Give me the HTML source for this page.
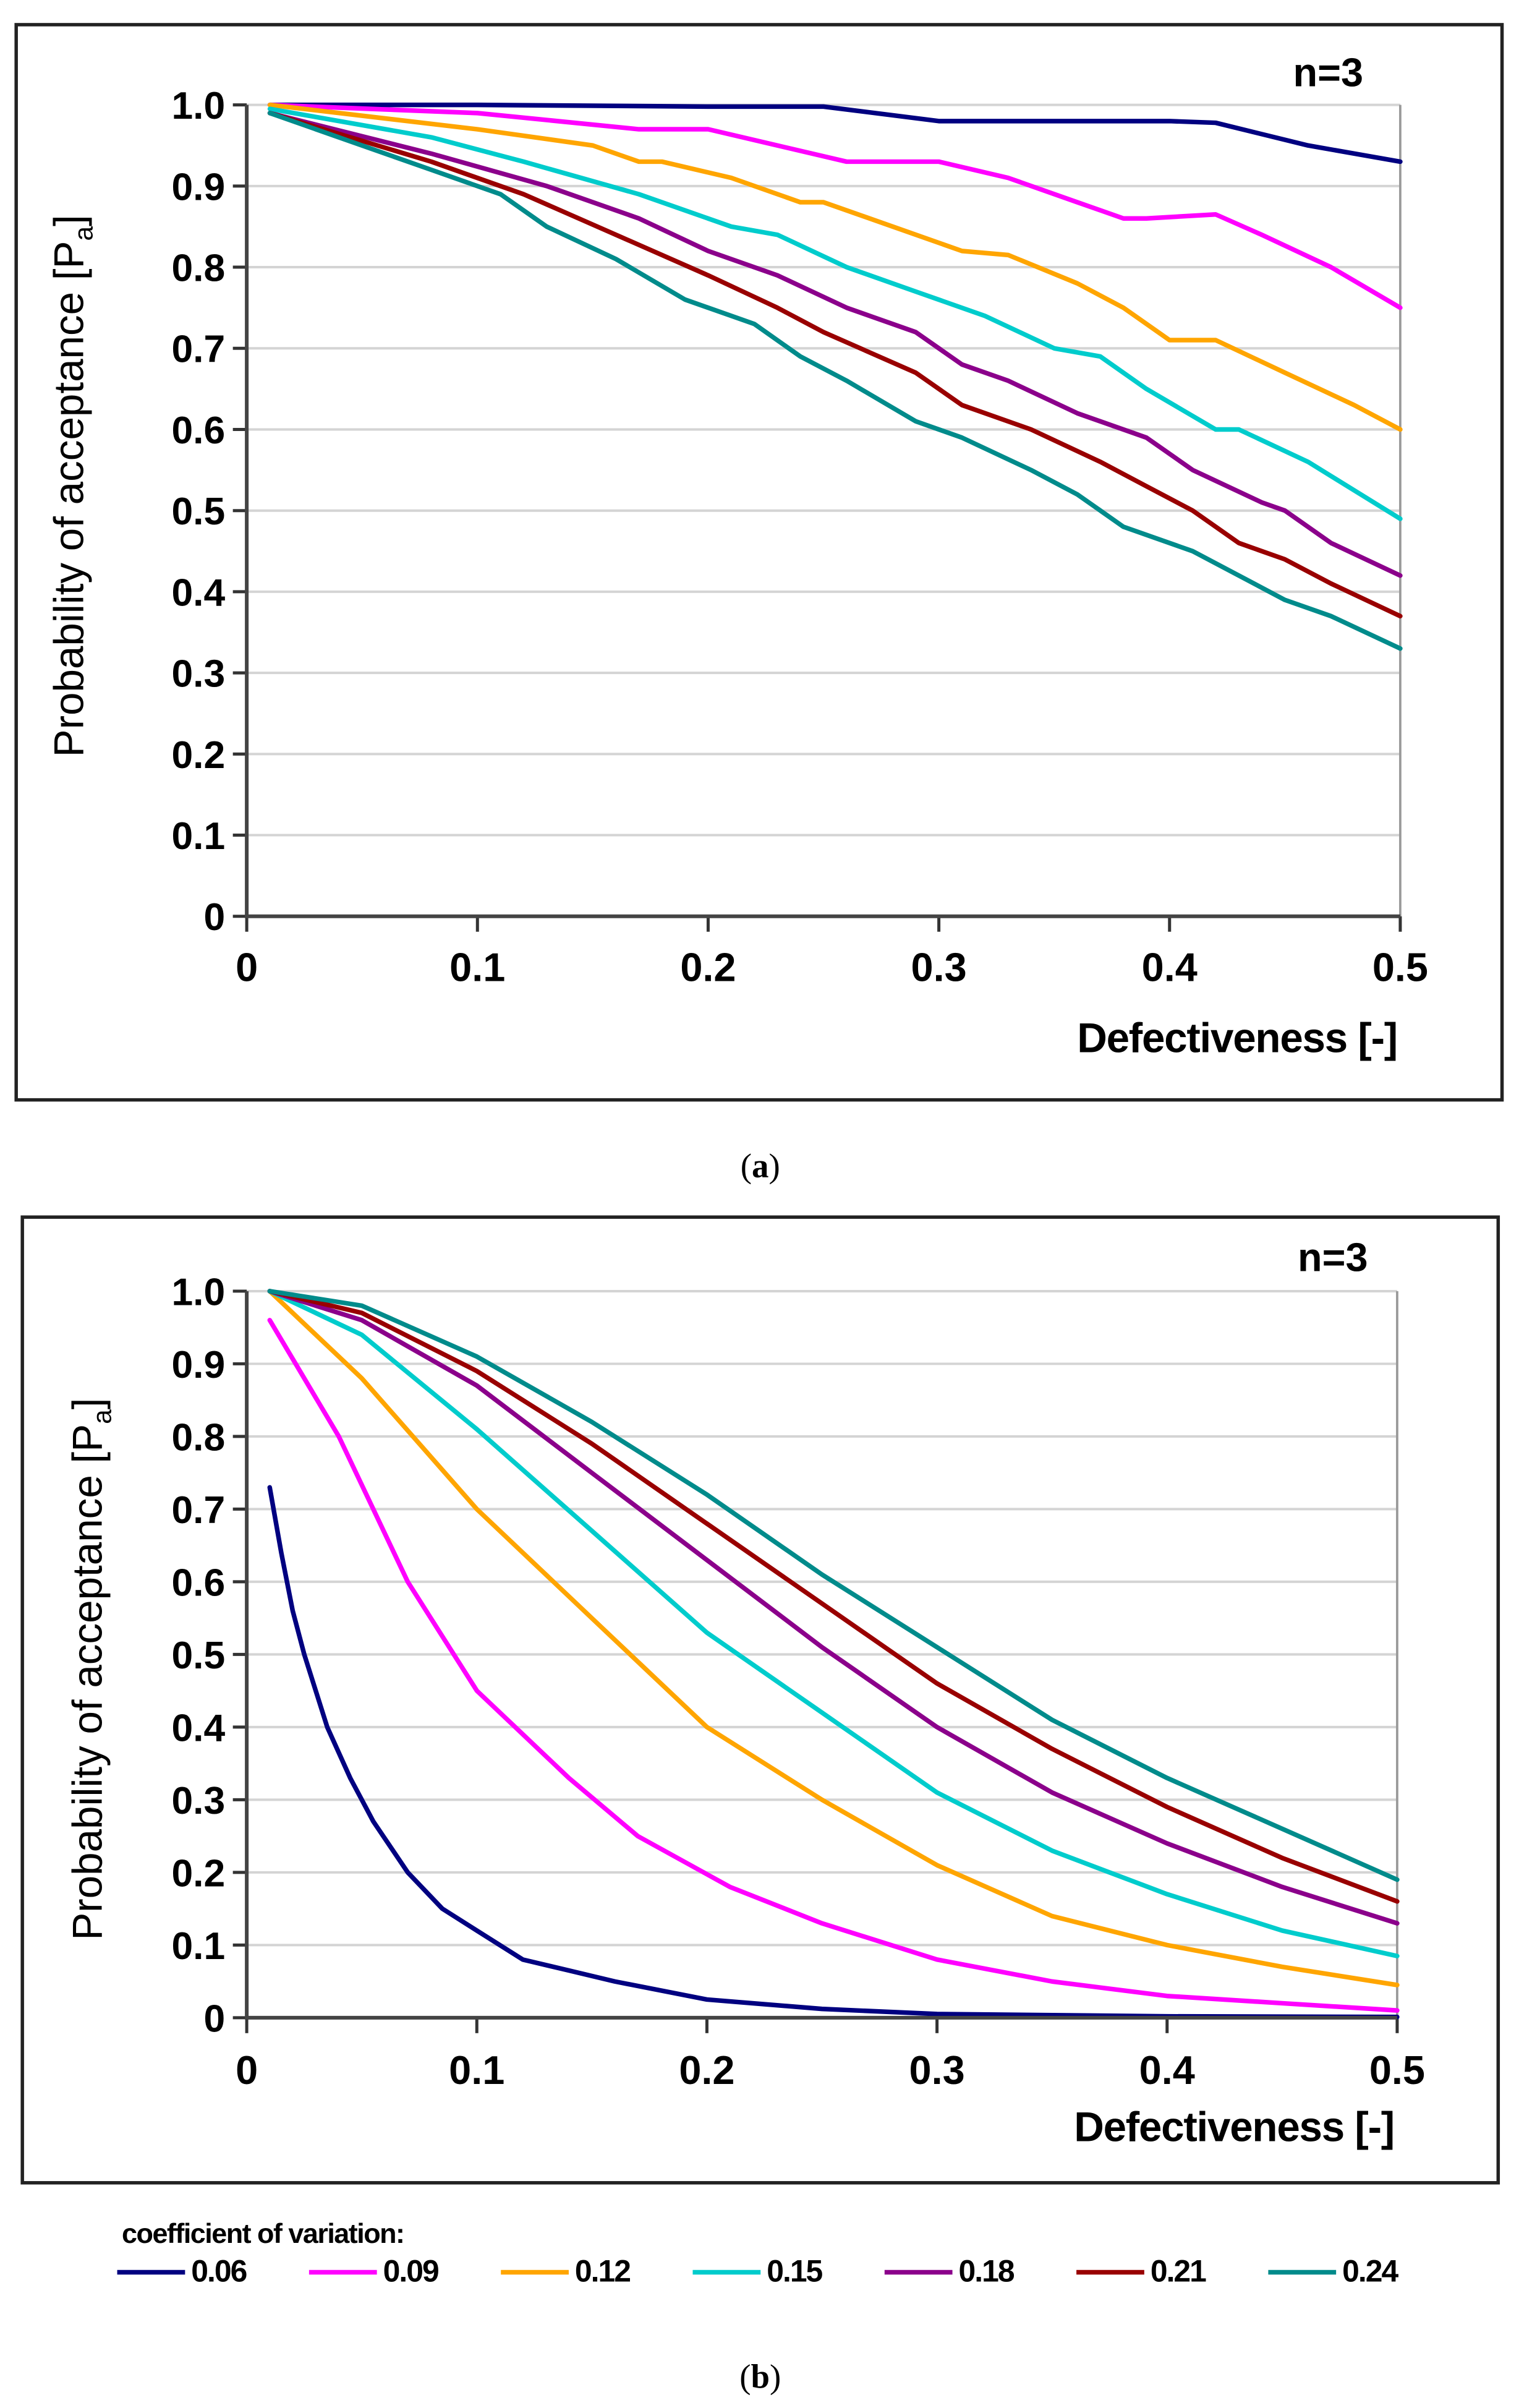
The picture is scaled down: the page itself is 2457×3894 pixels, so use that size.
<!DOCTYPE html>
<html><head><meta charset="utf-8"><style>
html,body{margin:0;padding:0;background:#fff}
svg{display:block}
text{font-family:"Liberation Sans",sans-serif}
</style></head><body>
<svg id="root" width="2457" height="3894" viewBox="0 0 985 1561" preserveAspectRatio="none" xmlns="http://www.w3.org/2000/svg">
<rect x="10.5" y="16" width="963.5" height="697" fill="#fff" stroke="#222" stroke-width="2.2"/>
<rect x="14.5" y="789" width="957" height="626" fill="#fff" stroke="#222" stroke-width="2.2"/>
<g id="pa"></g>
<g id="pb"></g>
<text x="493" y="763" text-anchor="middle" font-size="22" style="font-family:'Liberation Serif',serif">(<tspan font-weight="bold">a</tspan>)</text>
<text x="493" y="1548" text-anchor="middle" font-size="22" style="font-family:'Liberation Serif',serif">(<tspan font-weight="bold">b</tspan>)</text>
<g id="legend">
<text x="79" y="1454" font-size="18" font-weight="bold" letter-spacing="-0.6">coefficient of variation:</text>
</g>
</svg>
<script>
const seriesNames=["0.06","0.09","0.12","0.15","0.18","0.21","0.24"];
const colors=["#000080","#ff00ff","#ffa500","#00cccc","#8b008b","#990000","#008b8b"];
const yTicks=[0,0.1,0.2,0.3,0.4,0.5,0.6,0.7,0.8,0.9,1.0];
const yTickLabels=["0","0.1","0.2","0.3","0.4","0.5","0.6","0.7","0.8","0.9","1.0"];
const xTicks=[0,0.1,0.2,0.3,0.4,0.5];
const xTickLabels=["0","0.1","0.2","0.3","0.4","0.5"];
// panel a
const aX06=[0.01,0.1,0.2,0.25,0.3,0.35,0.4,0.42,0.46,0.5];
const aY06=[1.0,1.0,0.998,0.998,0.98,0.98,0.98,0.978,0.95,0.93];
const aX09=[0.01,0.1,0.17,0.2,0.23,0.26,0.3,0.33,0.36,0.38,0.39,0.42,0.44,0.47,0.5];
const aY09=[1.0,0.99,0.97,0.97,0.95,0.93,0.93,0.91,0.88,0.86,0.86,0.865,0.84,0.80,0.75];
const aX12=[0.01,0.1,0.15,0.17,0.18,0.21,0.24,0.25,0.28,0.31,0.33,0.36,0.38,0.4,0.42,0.45,0.48,0.5];
const aY12=[1.0,0.97,0.95,0.93,0.93,0.91,0.88,0.88,0.85,0.82,0.815,0.78,0.75,0.71,0.71,0.67,0.63,0.6];
const aX15=[0.01,0.08,0.12,0.17,0.21,0.23,0.26,0.29,0.32,0.35,0.37,0.39,0.42,0.43,0.46,0.5];
const aY15=[0.995,0.96,0.93,0.89,0.85,0.84,0.80,0.77,0.74,0.70,0.69,0.65,0.60,0.60,0.56,0.49];
const aX18=[0.01,0.08,0.13,0.17,0.2,0.23,0.26,0.29,0.31,0.33,0.36,0.39,0.41,0.44,0.45,0.47,0.5];
const aY18=[0.99,0.94,0.90,0.86,0.82,0.79,0.75,0.72,0.68,0.66,0.62,0.59,0.55,0.51,0.50,0.46,0.42];
const aX21=[0.01,0.08,0.12,0.16,0.2,0.23,0.25,0.29,0.31,0.34,0.37,0.39,0.41,0.43,0.45,0.47,0.5];
const aY21=[0.99,0.93,0.89,0.84,0.79,0.75,0.72,0.67,0.63,0.60,0.56,0.53,0.50,0.46,0.44,0.41,0.37];
const aX24=[0.01,0.08,0.11,0.13,0.16,0.19,0.22,0.24,0.26,0.29,0.31,0.34,0.36,0.38,0.41,0.43,0.45,0.47,0.5];
const aY24=[0.99,0.92,0.89,0.85,0.81,0.76,0.73,0.69,0.66,0.61,0.59,0.55,0.52,0.48,0.45,0.42,0.39,0.37,0.33];
// panel b
const bX06=[0.01,0.015,0.02,0.025,0.035,0.045,0.055,0.07,0.085,0.1,0.12,0.14,0.16,0.2,0.25,0.3,0.4,0.5];
const bY06=[0.73,0.64,0.56,0.5,0.4,0.33,0.27,0.2,0.15,0.12,0.08,0.065,0.05,0.025,0.012,0.005,0.002,0.001];
const bX09=[0.01,0.04,0.07,0.1,0.14,0.17,0.21,0.25,0.3,0.35,0.4,0.45,0.5];
const bY09=[0.96,0.8,0.6,0.45,0.33,0.25,0.18,0.13,0.08,0.05,0.03,0.02,0.01];
const bX12=[0.01,0.05,0.1,0.15,0.2,0.25,0.3,0.35,0.4,0.45,0.5];
const bY12=[1.0,0.88,0.7,0.55,0.4,0.3,0.21,0.14,0.10,0.07,0.045];
const bX15=[0.01,0.05,0.1,0.15,0.2,0.25,0.3,0.35,0.4,0.45,0.5];
const bY15=[1.0,0.94,0.81,0.67,0.53,0.42,0.31,0.23,0.17,0.12,0.085];
const bX18=[0.01,0.05,0.1,0.15,0.2,0.25,0.3,0.35,0.4,0.45,0.5];
const bY18=[1.0,0.96,0.87,0.75,0.63,0.51,0.40,0.31,0.24,0.18,0.13];
const bX21=[0.01,0.05,0.1,0.15,0.2,0.25,0.3,0.35,0.4,0.45,0.5];
const bY21=[1.0,0.97,0.89,0.79,0.68,0.57,0.46,0.37,0.29,0.22,0.16];
const bX24=[0.01,0.05,0.1,0.15,0.2,0.25,0.3,0.35,0.4,0.45,0.5];
const bY24=[1.0,0.98,0.91,0.82,0.72,0.61,0.51,0.41,0.33,0.26,0.19];

const NS="http://www.w3.org/2000/svg";
function mk(tag,attrs,parent){const e=document.createElementNS(NS,tag);for(const k in attrs)e.setAttribute(k,attrs[k]);parent.appendChild(e);return e;}

function panel(g,cfg,xs,ys,tag){
  const sx=v=>cfg.x0+(cfg.x1-cfg.x0)*v/0.5;
  const sy=v=>cfg.y0-(cfg.y0-cfg.y1)*v;
  yTicks.forEach((t,i)=>{
    if(t>0){const gl=mk('line',{x1:sx(0),x2:sx(0.5),y1:sy(t),y2:sy(t),stroke:'#d4d4d4','stroke-width':1.6},g);
    
    }
    const tk=mk('line',{x1:sx(0)-9,x2:sx(0),y1:sy(t),y2:sy(t),stroke:'#333','stroke-width':2},g);
    
    
    const lb=mk('text',{x:sx(0)-14,y:sy(t)+cfg.lyOff,'text-anchor':'end','font-size':cfg.fs,'font-weight':'bold'},g);
    lb.textContent=yTickLabels[i];
    
    
  });
  const rb=mk('line',{x1:sx(0.5),x2:sx(0.5),y1:sy(1),y2:sy(0),stroke:'#999','stroke-width':1.5},g);
  
  
  xTicks.forEach((t,i)=>{
    const tk=mk('line',{x1:sx(t),x2:sx(t),y1:sy(0),y2:sy(0)+10,stroke:'#333','stroke-width':2},g);
    
    
    const lb=mk('text',{x:sx(t),y:sy(0)+cfg.lxOff,'text-anchor':'middle','font-size':cfg.fs+1,'font-weight':'bold'},g);
    lb.textContent=xTickLabels[i];
    
    
  });
  for(let s=0;s<xs.length;s++){
    const pts=xs[s].map((x,i)=>sx(x).toFixed(1)+','+sy(ys[s][i]).toFixed(1)).join(' ');
    const pl=mk('polyline',{points:pts,fill:'none',stroke:colors[s],'stroke-width':3,'stroke-linejoin':'round','stroke-linecap':'round'},g);
    
    
  }
  const ax=mk('path',{d:`M${sx(0)} ${sy(1)} L${sx(0)} ${sy(0)} L${sx(0.5)} ${sy(0)}`,fill:'none',stroke:'#444','stroke-width':2.4},g);
  
  
  const yt=mk('text',{transform:`translate(${cfg.ytx},${cfg.yty}) rotate(-90)`,'text-anchor':'middle','font-size':27},g);
  yt.innerHTML='Probability of acceptance [P<tspan font-size="17" dy="6">a</tspan><tspan dy="-6">]</tspan>';
  
  
  const xt=mk('text',{x:sx(0.5)-2,y:cfg.xty,'text-anchor':'end','font-size':27,'font-weight':'bold','letter-spacing':'-0.5'},g);
  xt.textContent='Defectiveness [-]';
  
  
  const n=mk('text',{x:cfg.nx,y:cfg.ny,'text-anchor':'end','font-size':26,'font-weight':'bold'},g);
  n.textContent='n=3';
  
  
}
panel(document.getElementById('pa'),{x0:160,x1:908,y0:594,y1:68,fs:25,lyOff:9,lxOff:42,ytx:54,yty:315,xty:682,nx:884,ny:56},
 [aX06,aX09,aX12,aX15,aX18,aX21,aX24],[aY06,aY09,aY12,aY15,aY18,aY21,aY24],'a');
panel(document.getElementById('pb'),{x0:160,x1:906,y0:1308,y1:837,fs:25,lyOff:9,lxOff:43,ytx:66,yty:1082,xty:1388,nx:887,ny:824},
 [bX06,bX09,bX12,bX15,bX18,bX21,bX24],[bY06,bY09,bY12,bY15,bY18,bY21,bY24],'b');
const lg=document.getElementById('legend');
seriesNames.forEach((n,i)=>{
  const x=76+i*124.4;
  const ln=mk('line',{x1:x,x2:x+44,y1:1473,y2:1473,stroke:colors[i],'stroke-width':3},lg);
  
  
  const t=mk('text',{x:x+48,y:1479,'font-size':20,'font-weight':'bold','letter-spacing':'-0.8'},lg);
  t.textContent=n;
  
  
});
</script>
</body></html>
